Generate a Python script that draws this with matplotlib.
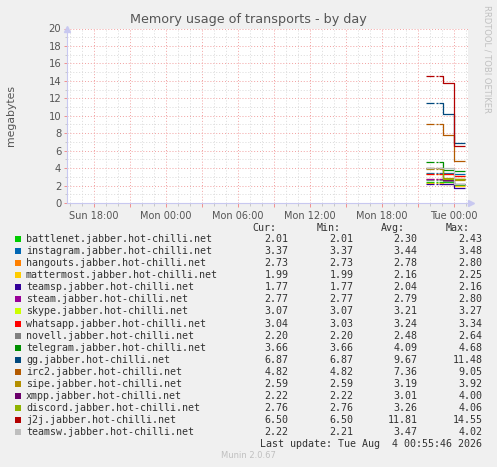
import matplotlib
matplotlib.use('Agg')
import matplotlib.pyplot as plt
import numpy as np
from matplotlib.patches import Rectangle
from matplotlib.ticker import MultipleLocator

# ---------------- data ----------------
names = ["battlenet.jabber.hot-chilli.net", "instagram.jabber.hot-chilli.net",
         "hangouts.jabber.hot-chilli.net", "mattermost.jabber.hot-chilli.net",
         "teamsp.jabber.hot-chilli.net", "steam.jabber.hot-chilli.net",
         "skype.jabber.hot-chilli.net", "whatsapp.jabber.hot-chilli.net",
         "novell.jabber.hot-chilli.net", "telegram.jabber.hot-chilli.net",
         "gg.jabber.hot-chilli.net", "irc2.jabber.hot-chilli.net",
         "sipe.jabber.hot-chilli.net", "xmpp.jabber.hot-chilli.net",
         "discord.jabber.hot-chilli.net", "j2j.jabber.hot-chilli.net",
         "teamsw.jabber.hot-chilli.net"]
colors = ["#00CC00", "#0066B3", "#FF8000", "#FFCC00", "#330099", "#990099",
          "#CCFF00", "#FF0000", "#808080", "#008F00", "#00487D", "#B35A00",
          "#B38F00", "#6B006B", "#8FB300", "#B30000", "#BEBEBE"]
cur_vals = [2.01, 3.37, 2.73, 1.99, 1.77, 2.77, 3.07, 3.04, 2.20, 3.66, 6.87, 4.82,
            2.59, 2.22, 2.76, 6.50, 2.22]
min_vals = [2.01, 3.37, 2.73, 1.99, 1.77, 2.77, 3.07, 3.03, 2.20, 3.66, 6.87, 4.82,
            2.59, 2.22, 2.76, 6.50, 2.21]
avg_vals = [2.30, 3.44, 2.78, 2.16, 2.04, 2.79, 3.21, 3.24, 2.48, 4.09, 9.67, 7.36,
            3.19, 3.01, 3.26, 11.81, 3.47]
max_vals = [2.43, 3.48, 2.80, 2.25, 2.16, 2.80, 3.27, 3.34, 2.64, 4.68, 11.48, 9.05,
            3.92, 4.00, 4.06, 14.55, 4.02]

early_level = [2.43, 3.48, 2.80, 2.25, 2.16, 2.80, 3.27, 3.34, 2.64, 4.68, 11.48, 9.05,
               3.92, 4.00, 4.06, 14.55, 4.02]
middle_level = [2.41, 3.46, 2.80, 2.21, 2.15, 2.80, 3.27, 3.31, 2.55, 3.80, 10.20, 7.74,
                2.87, 2.58, 2.79, 13.80, 3.97]
late_level = [2.01, 3.37, 2.73, 1.99, 1.77, 2.77, 3.07, 3.04, 2.20, 3.66, 6.87, 4.82,
              2.59, 2.22, 2.76, 6.50, 2.22]

# sample times in hours relative to Mon 00:00 (gaps = missing samples)
sample_times = [21.65, 22.333, 22.5, 22.667, 22.75, 23.083, 24.0, 24.95]
sample_kind = ["early", "gap", "early", "gap", "early", "middle", "late", "late"]

xtick_hours = [-6, 0, 6, 12, 18, 24]
xtick_labels = ["Sun 18:00", "Mon 00:00", "Mon 06:00", "Mon 12:00", "Mon 18:00", "Tue 00:00"]

# ---------------- figure ----------------
W, H = 497, 467
fig = plt.figure(figsize=(W / 100, H / 100), dpi=100, facecolor="#F0F0F0")

L, R, T, B = 66.7, 467.7, 28.5, 203.0
ax = fig.add_axes([L / W, 1 - B / H, (R - L) / W, (B - T) / H])
ax.set_facecolor("white")

x_left = -6 - (94 - L) / 12.0
x_right = 24 + (R - 454) / 12.0
ax.set_xlim(x_left, x_right)
ax.set_ylim(0, 20)

for s in ["top", "right"]:
    ax.spines[s].set_visible(False)
for s in ["left", "bottom"]:
    ax.spines[s].set_color("#C8C8F0")
    ax.spines[s].set_linewidth(0.8)

ax.xaxis.set_major_locator(MultipleLocator(3))
ax.xaxis.set_minor_locator(MultipleLocator(1))
ax.yaxis.set_major_locator(MultipleLocator(2))
ax.yaxis.set_minor_locator(MultipleLocator(1))

ax.grid(which="minor", color="#DADADA", linestyle=(0, (1, 2)), linewidth=0.7)
ax.grid(which="major", color="#F2A0A0", linestyle=(0, (1, 2)), linewidth=0.7)
ax.set_axisbelow(True)

maj = np.arange(-6, 25, 3)
ax.set_xticks(maj)
ax.set_xticklabels([xtick_labels[xtick_hours.index(h)] if h in xtick_hours else "" for h in maj])
ax.tick_params(axis="x", which="major", colors="#F09090", length=3, width=0.7,
               labelcolor="#555555", labelsize=7, pad=3)
ax.tick_params(axis="x", which="minor", colors="#C8C8C8", length=2, width=0.7)
ax.tick_params(axis="y", which="major", colors="#F09090", length=2, width=0.7,
               labelcolor="#555555", labelsize=7.2, pad=2)
ax.tick_params(axis="y", which="minor", colors="#C8C8C8", length=1.5, width=0.7)

# data lines
for i in range(len(names)):
    lv = {"early": early_level[i], "middle": middle_level[i], "late": late_level[i],
          "gap": np.nan}
    vals = [lv[k] for k in sample_kind]
    ax.plot(sample_times, vals, drawstyle="steps-post", color=colors[i], linewidth=0.9,
            solid_capstyle="butt", zorder=3)

# arrows on axes
ax.plot([x_left], [20.0], marker="^", color="#C8C8F0", markersize=5, clip_on=False, zorder=5)
ax.plot([x_right + 0.25], [0], marker=">", color="#C8C8F0", markersize=5, clip_on=False, zorder=5)

# ---------------- text layer (pixel coords) ----------------
tx = fig.add_axes([0, 0, 1, 1], zorder=-1)
tx.set_xlim(0, W)
tx.set_ylim(H, 0)
tx.axis("off")
tx.patch.set_alpha(0)

fig.text(0.5, 1 - 19 / H, "Memory usage of transports - by day", ha="center", va="center",
         fontsize=9.2, color="#555555")
fig.text(11 / W, 1 - 116 / H, "megabytes", rotation=90, ha="center", va="center",
         fontsize=7.8, color="#555555")
fig.text(487 / W, 1 - 5 / H, "RRDTOOL / TOBI OETIKER", rotation=270, ha="center", va="top",
         fontsize=6.0, color="#C0C0C0")

mono = dict(family="DejaVu Sans Mono", fontsize=7.2, color="#333333", va="center")
for xr, h in zip([276, 341, 405, 470], ["Cur:", "Min:", "Avg:", "Max:"]):
    tx.text(xr, 228, h, ha="right", **mono)

for i, nm in enumerate(names):
    y = 239.3 + 12.03 * i
    tx.add_patch(Rectangle((15, y - 3), 6, 6, facecolor=colors[i], edgecolor="none"))
    tx.text(26, y, nm, ha="left", **mono)
    for xr, v in zip([288.7, 353.3, 417.7, 482.3],
                     [cur_vals[i], min_vals[i], avg_vals[i], max_vals[i]]):
        tx.text(xr, y, f"{v:.2f}", ha="right", **mono)

tx.text(482.3, 443.7, "Last update: Tue Aug  4 00:55:46 2026", ha="right", **mono)
tx.text(248, 456, "Munin 2.0.67", ha="center", va="center", fontsize=6.0, color="#C0C0C0")

fig.savefig("out.png", dpi=100, facecolor=fig.get_facecolor())
